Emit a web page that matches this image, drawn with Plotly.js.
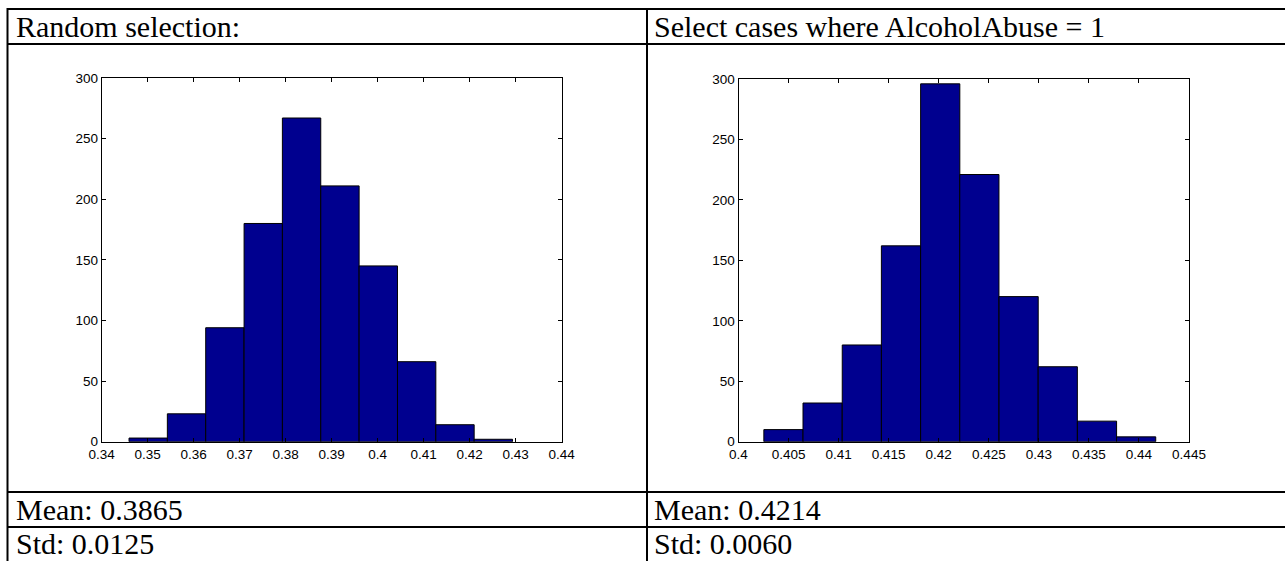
<!DOCTYPE html>
<html>
<head>
<meta charset="utf-8">
<script src="https://cdn.plot.ly/plotly-3.0.1.min.js"></script>
<style>
html,body{margin:0;padding:0;background:#fff;}
#chart{width:1285px;height:561px;}
</style>
</head>
<body>
<div id="chart"></div>
<script>
// ---- data ----
const leftTitle = "Random selection:";
const rightTitle = "Select cases where AlcoholAbuse = 1";
const leftBinCenters = [0.35011, 0.35844, 0.36678, 0.37512, 0.38345, 0.39179, 0.40013, 0.40847, 0.41680, 0.42514];
const leftCounts = [3, 23, 94, 180, 267, 211, 145, 66, 14, 2];
const leftBinWidth = 0.008337;
const rightBinCenters = [0.40449, 0.40840, 0.41232, 0.41623, 0.42015, 0.42406, 0.42798, 0.43189, 0.43581, 0.43972];
const rightCounts = [10, 32, 80, 162, 296, 221, 120, 62, 17, 4];
const rightBinWidth = 0.003915;
const leftXTicks = [0.34, 0.35, 0.36, 0.37, 0.38, 0.39, 0.40, 0.41, 0.42, 0.43, 0.44];
const leftXTickLabels = ["0.34","0.35","0.36","0.37","0.38","0.39","0.4","0.41","0.42","0.43","0.44"];
const rightXTicks = [0.40, 0.405, 0.41, 0.415, 0.42, 0.425, 0.43, 0.435, 0.44, 0.445];
const rightXTickLabels = ["0.4","0.405","0.41","0.415","0.42","0.425","0.43","0.435","0.44","0.445"];
const yTicks = [0, 50, 100, 150, 200, 250, 300];
const leftStats = ["Mean: 0.3865", "Std: 0.0125"];
const rightStats = ["Mean: 0.4214", "Std: 0.0060"];

// ---- layout helpers (pixel -> paper) ----
const W = 1285, H = 561;
const px = v => v / W;
const py = v => 1 - v / H;

const barColor = "#00008F";
const tickFont = {family: "Liberation Sans, Arial, sans-serif", size: 13.5, color: "#000"};
const cellFont = {family: "Liberation Serif, serif", size: 30, color: "#000"};

const traces = [
  {type: "bar", x: leftBinCenters, y: leftCounts, width: leftBinWidth,
   marker: {color: barColor, line: {color: "#000", width: 1}},
   xaxis: "x", yaxis: "y", hoverinfo: "x+y"},
  {type: "bar", x: rightBinCenters, y: rightCounts, width: rightBinWidth,
   marker: {color: barColor, line: {color: "#000", width: 1}},
   xaxis: "x2", yaxis: "y2", hoverinfo: "x+y"}
];

function axisStyle(extra) {
  return Object.assign({
    showgrid: false, zeroline: false, showline: true, mirror: "allticks",
    linecolor: "#000", linewidth: 1, ticks: "inside", ticklen: 4,
    tickcolor: "#000", tickwidth: 1, tickfont: tickFont, fixedrange: true
  }, extra);
}

const lineStyle = {color: "#000", width: 2};
const shapes = [
  // horizontal table lines
  {type: "line", xref: "paper", yref: "paper", x0: px(7), x1: px(1285), y0: py(9), y1: py(9), line: lineStyle},
  {type: "line", xref: "paper", yref: "paper", x0: px(7), x1: px(1285), y0: py(44), y1: py(44), line: lineStyle},
  {type: "line", xref: "paper", yref: "paper", x0: px(7), x1: px(1285), y0: py(492), y1: py(492), line: lineStyle},
  {type: "line", xref: "paper", yref: "paper", x0: px(7), x1: px(1285), y0: py(527), y1: py(527), line: lineStyle},
  // vertical table lines
  {type: "line", xref: "paper", yref: "paper", x0: px(7.5), x1: px(7.5), y0: py(8), y1: py(561), line: lineStyle},
  {type: "line", xref: "paper", yref: "paper", x0: px(647), x1: px(647), y0: py(8), y1: py(561), line: lineStyle}
];

function cellText(text, xPix, yPix) {
  return {text: text, xref: "paper", yref: "paper", x: px(xPix), y: py(yPix),
          xanchor: "left", yanchor: "middle", showarrow: false, font: cellFont};
}

const annotations = [
  cellText(leftTitle, 14, 26),
  cellText(rightTitle, 652, 26),
  cellText(leftStats[0], 14, 509),
  cellText(rightStats[0], 652, 509),
  cellText(leftStats[1], 14, 543),
  cellText(rightStats[1], 652, 543)
];

const layout = {
  width: W, height: H,
  margin: {l: 0, r: 0, t: 0, b: 0, pad: 0},
  paper_bgcolor: "#fff", plot_bgcolor: "#fff",
  showlegend: false, bargap: 0,
  xaxis: axisStyle({domain: [px(101.7), px(561.7)], range: [0.34, 0.44],
    tickvals: leftXTicks, ticktext: leftXTickLabels, anchor: "y"}),
  yaxis: axisStyle({domain: [py(441.7), py(78)], range: [0, 300],
    tickvals: yTicks, anchor: "x"}),
  xaxis2: axisStyle({domain: [px(738.5), px(1189)], range: [0.4, 0.445],
    tickvals: rightXTicks, ticktext: rightXTickLabels, anchor: "y2"}),
  yaxis2: axisStyle({domain: [py(441.7), py(79)], range: [0, 300],
    tickvals: yTicks, anchor: "x2"}),
  shapes: shapes,
  annotations: annotations
};

Plotly.newPlot("chart", traces, layout, {displayModeBar: false, staticPlot: true});
</script>
</body>
</html>
